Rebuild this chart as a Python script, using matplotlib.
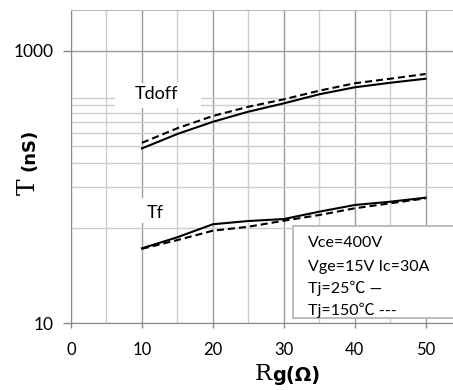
import matplotlib
matplotlib.use("Agg")
import matplotlib.pyplot as plt
from matplotlib.ticker import FixedLocator, NullFormatter
from matplotlib.patches import Rectangle

# data
rg = [10, 15, 20, 25, 30, 35, 40, 45, 50]
tdoff_25 = [192, 245, 301, 357, 411, 479, 539, 582, 623]
tdoff_150 = [211, 270, 332, 388, 440, 509, 577, 623, 675]
tf_25 = [35.5, 42.8, 53.3, 56.3, 58.2, 65.9, 73.8, 78, 83.5]
tf_150 = [35.2, 40.8, 47.8, 51.1, 56.6, 62.3, 69.8, 75.9, 82.6]

x_ticks = [0, 10, 20, 30, 40, 50]
x_minor = [5, 15, 25, 35, 45]
y_ticks = [10, 1000]
y_minor = [50, 100, 150, 200, 250, 300, 350, 400, 450]
cond_lines = ["Vce=400V", "Vge=15V Ic=30A", "Tj=25\u2103 \u2014", "Tj=150\u2103 ---"]

sans = ["Lato", "Noto Sans CJK SC", "DejaVu Sans"]
plt.rcParams["font.family"] = sans

W, H = 453, 390
fig = plt.figure(figsize=(W / 100, H / 100), dpi=100)
ax = fig.add_axes([71 / W, (H - 323.3) / H, 382 / W, (323.3 - 10) / H])

ax.set_yscale("log")
ax.set_xlim(0, 53.86)
ax.set_ylim(10, 1990)

ax.set_xticks(x_ticks)
ax.xaxis.set_minor_locator(FixedLocator(x_minor))
ax.set_yticks(y_ticks)
ax.set_yticklabels([str(v) for v in y_ticks])
ax.yaxis.set_minor_locator(FixedLocator(y_minor))
ax.yaxis.set_minor_formatter(NullFormatter())

ax.grid(True, which="major", color="#9a9a9a", lw=1.0)
ax.grid(True, which="minor", color="#cccccc", lw=1.0)
ax.set_axisbelow(True)

ax.tick_params(axis="x", which="major", length=3.6, width=1, color="#888888",
               pad=10, labelsize=12)
ax.tick_params(axis="y", which="major", length=5.8, width=1, color="#888888",
               pad=7, labelsize=12.5)
ax.tick_params(which="minor", length=0)

for s in ["left", "bottom"]:
    ax.spines[s].set_color("#888888")
ax.spines["top"].set_color("#bbbbbb")
ax.spines["right"].set_visible(False)

ax.plot(rg, tdoff_25, color="black", lw=1.5, zorder=4)
ax.plot(rg, tdoff_150, color="black", lw=1.5, dashes=(3.4, 1.9), zorder=4)
ax.plot(rg, tf_25, color="black", lw=1.5, zorder=4)
ax.plot(rg, tf_150, color="black", lw=1.5, dashes=(3.4, 1.9), zorder=4)

# curve labels with white backing that hides the grid
ax.add_patch(Rectangle((0.1152, 0.687), 0.2251, 0.080, transform=ax.transAxes,
                       facecolor="white", edgecolor="none", zorder=2))
ax.text(0.1675, 0.732, "Tdoff", transform=ax.transAxes, fontsize=13,
        va="center", ha="left", zorder=3)
ax.add_patch(Rectangle((0.180, 0.320), 0.09, 0.080, transform=ax.transAxes,
                       facecolor="white", edgecolor="none", zorder=2))
ax.text(0.198, 0.352, "Tf", transform=ax.transAxes, fontsize=13,
        va="center", ha="left", zorder=3)

# conditions box
ax.add_patch(Rectangle((0.581, 0.016), 0.45, 0.2955, transform=ax.transAxes,
                       facecolor="white", edgecolor="#b0b0b0", lw=1.2,
                       zorder=5, clip_on=False))
for yy, txt in zip([0.256, 0.181, 0.110, 0.040], cond_lines):
    ax.text(0.620, yy, txt, transform=ax.transAxes, fontsize=11.5,
            va="center", ha="left", zorder=6)

# axis titles
fig.text(255 / W, 1 - 380 / H, "R", family="DejaVu Serif", fontsize=16.5,
         ha="left", va="baseline")
fig.text(272 / W, 1 - 381 / H, "g(\u03a9)", family="DejaVu Sans",
         fontweight="bold", fontsize=14, ha="left", va="baseline")
fig.text(35 / W, 1 - 195 / H, "T", family="DejaVu Serif", fontsize=18,
         rotation=90, rotation_mode="anchor", ha="left", va="baseline")
fig.text(34 / W, 1 - 171 / H, "(nS)", family="DejaVu Sans", fontweight="bold",
         fontsize=13, rotation=90, rotation_mode="anchor", ha="left", va="baseline")

fig.savefig("out.png", dpi=100)
